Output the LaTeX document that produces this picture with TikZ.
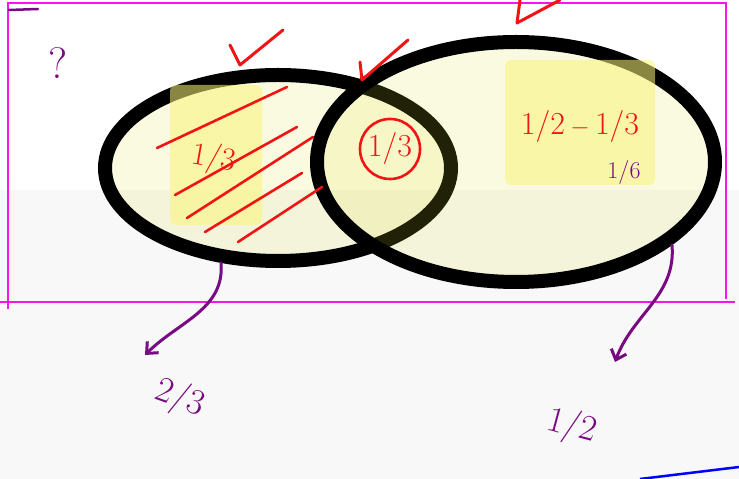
\documentclass[tikz,border=0pt]{standalone}
\usetikzlibrary{shapes.geometric,arrows.meta}

\definecolor{penred}{RGB}{240,20,20}
\definecolor{penpurple}{RGB}{120,10,130}
\definecolor{frame}{RGB}{250,20,240}
\definecolor{setfill}{RGB}{222,222,49}
\definecolor{marker}{RGB}{250,245,120}
\definecolor{paper}{RGB}{248,248,248}

\tikzset{
  setline/.style={ellipse, draw=black, line width=14pt, fill=setfill, fill opacity=0.15, draw opacity=1, inner sep=0pt},
  highlight/.style={fill=marker, fill opacity=0.55, rounded corners=6pt},
  hatch/.style={penred, line width=2.6pt, line cap=round},
  tick/.style={penred, line width=3pt, line cap=round, line join=round},
  penarrow/.style={-{Straight Barb[length=9pt,width=16pt]}, penpurple, line width=3pt, line cap=round},
  rednote/.style={text=penred, font=\fontsize{32}{34}\selectfont},
  purplenote/.style={text=penpurple, font=\fontsize{36}{38}\selectfont},
}

\begin{document}
\begin{tikzpicture}[x=1pt, y=1pt]
  \useasboundingbox (0,0) rectangle (739,479);
  \fill[paper] (0,0) rectangle (739,289);

  % frame
  \draw[frame, line width=2.5pt] (8,170) -- (8,476) -- (726,476) -- (726,180);
  \draw[frame, line width=2.5pt] (0,177) -- (735,177);
  \draw[penpurple, line width=2.5pt, line cap=round] (9,469) -- (38,470);

  % the two sets
  \node[setline, minimum width=346pt, minimum height=186pt] (setA) at (278,311) {};
  \fill[highlight] (170,254) rectangle (262,394);
  \node[setline, minimum width=398pt, minimum height=240pt] (setB) at (516,317) {};
  \fill[highlight] (505,294) rectangle (655,419);

  % hatching of A only
  \draw[hatch] (157,331) -- (287,392);
  \draw[hatch] (175,284) -- (297,352);
  \draw[hatch] (187,261) -- (313,342);
  \draw[hatch] (205,247) -- (302,306);
  \draw[hatch] (238,237) -- (322,292);

  % ticks
  \draw[tick] (230,434) -- (240,414) -- (283,449);
  \draw[tick] (360,417) -- (362,399) -- (408,439);
  \draw[tick] (520,479) -- (517,456) -- (560,479);

  % labels inside
  \node[rednote, rotate=-10] (onlyA) at (214,320) {1/3};
  \node[rednote, draw=penred, line width=2.6pt, circle, inner sep=2pt] (both) at (390,330) {1/3};
  \node[rednote] (onlyB) at (580,352) {1/2\,$-$\,1/3};
  \node[text=penpurple, font=\fontsize{24}{26}\selectfont] (onlyBval) at (624,306) {1/6};
  \node[purplenote, font=\fontsize{44}{46}\selectfont] (quest) at (58,416) {?};

  % totals
  \coordinate (tipA) at (145,124);
  \coordinate (tipB) at (615,117);
  \node[purplenote, rotate=-20] (totA) at (180,80) {2/3};
  \node[purplenote, rotate=-15] (totB) at (572,52) {1/2};
  \draw[penarrow] (setA.-121) to[out=-85, in=45] (tipA);
  \draw[penarrow] (setB.-28) to[out=-85, in=70] (tipB);

  \draw[blue, line width=2.5pt] (640,0) -- (739,12);
\end{tikzpicture}
\end{document}
